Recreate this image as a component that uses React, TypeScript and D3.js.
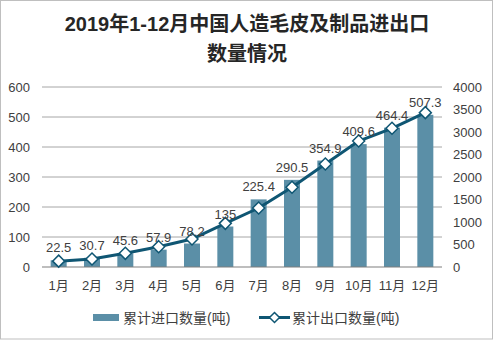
import React from "react";
import * as d3 from "d3";

const months = ["1月", "2月", "3月", "4月", "5月", "6月", "7月", "8月", "9月", "10月", "11月", "12月"];
const importQty = [22.5, 30.7, 45.6, 57.9, 78.2, 135, 225.4, 290.5, 354.9, 409.6, 464.4, 507.3];
const exportQty = [130, 178, 304, 452, 622, 970, 1310, 1771, 2290, 2800, 3082, 3430];
const leftTicks = [0, 100, 200, 300, 400, 500, 600];
const rightTicks = [0, 500, 1000, 1500, 2000, 2500, 3000, 3500, 4000];
const titleLines = ["2019年1-12月中国人造毛皮及制品进出口", "数量情况"];
const legendLabels = ["累计进口数量(吨)", "累计出口数量(吨)"];

const W = 494;
const H = 341;
const FONT = "'Liberation Sans', Arial, 'Noto Sans CJK SC', sans-serif";
const BAR = "#5B8FA7";
const LINE = "#0F5673";

export default function App() {
  const x = d3.scaleBand<string>().domain(months).range([42, 442]).paddingInner(0.52).paddingOuter(0.26);
  const yL = d3.scaleLinear().domain([0, 600]).range([267, 87]);
  const yR = d3.scaleLinear().domain([0, 4000]).range([267, 87]);
  const cx = (m: string) => (x(m) as number) + x.bandwidth() / 2;
  const line = d3
    .line<number>()
    .x((_, i) => cx(months[i]))
    .y((d) => yR(d));
  const diamond = (px: number, py: number, r = 6) =>
    `M${px},${py - r}L${px + r},${py}L${px},${py + r}L${px - r},${py}Z`;

  return (
    <svg
      width={W}
      height={H}
      style={{ position: "absolute", left: 0, top: 0, background: "#fff" }}
      fontFamily={FONT}
    >
      <rect x={0.5} y={0.5} width={W - 2} height={H - 2.5} fill="#fff" stroke="#BFBFBF" />
      {titleLines.map((t, i) => (
        <text key={i} x={247} y={31 + i * 30} textAnchor="middle" fontSize={20} fontWeight="bold" fill="#262626">
          {t}
        </text>
      ))}
      {leftTicks.map((t) => (
        <g key={"g" + t}>
          {t > 0 && <line x1={42} x2={442} y1={yL(t)} y2={yL(t)} stroke="#A6A6A6" strokeWidth={1} />}
          <text x={30} y={yL(t) + 4.5} textAnchor="end" fontSize={13} fill="#404040">
            {t}
          </text>
        </g>
      ))}
      {rightTicks.map((t) => (
        <text key={"r" + t} x={453} y={yR(t) + 4.5} textAnchor="start" fontSize={13} fill="#404040">
          {t}
        </text>
      ))}
      {importQty.map((v, i) => (
        <rect key={"b" + i} x={x(months[i])} y={yL(v)} width={x.bandwidth()} height={yL(0) - yL(v)} fill={BAR} />
      ))}
      <line x1={42} x2={442} y1={yL(0)} y2={yL(0)} stroke="#7F7F7F" strokeWidth={1.2} />
      <path d={line(exportQty) || ""} fill="none" stroke={LINE} strokeWidth={3} />
      {exportQty.map((v, i) => (
        <path key={"m" + i} d={diamond(cx(months[i]), yR(v))} fill="#fff" stroke={LINE} strokeWidth={1.5} />
      ))}
      {importQty.map((v, i) => (
        <text key={"l" + i} x={cx(months[i])} y={yL(v) - 8} textAnchor="middle" fontSize={13} fill="#404040">
          {v}
        </text>
      ))}
      {months.map((m) => (
        <text key={m} x={cx(m)} y={290} textAnchor="middle" fontSize={13} fill="#404040">
          {m}
        </text>
      ))}
      <rect x={93} y={314} width={26} height={7} fill={BAR} />
      <text x={123} y={323} fontSize={14} fill="#404040">
        {legendLabels[0]}
      </text>
      <line x1={259} x2={290} y1={317.5} y2={317.5} stroke={LINE} strokeWidth={3} />
      <path d={diamond(274.5, 317.5, 5)} fill="#fff" stroke={LINE} strokeWidth={1.5} />
      <text x={292} y={323} fontSize={14} fill="#404040">
        {legendLabels[1]}
      </text>
    </svg>
  );
}
